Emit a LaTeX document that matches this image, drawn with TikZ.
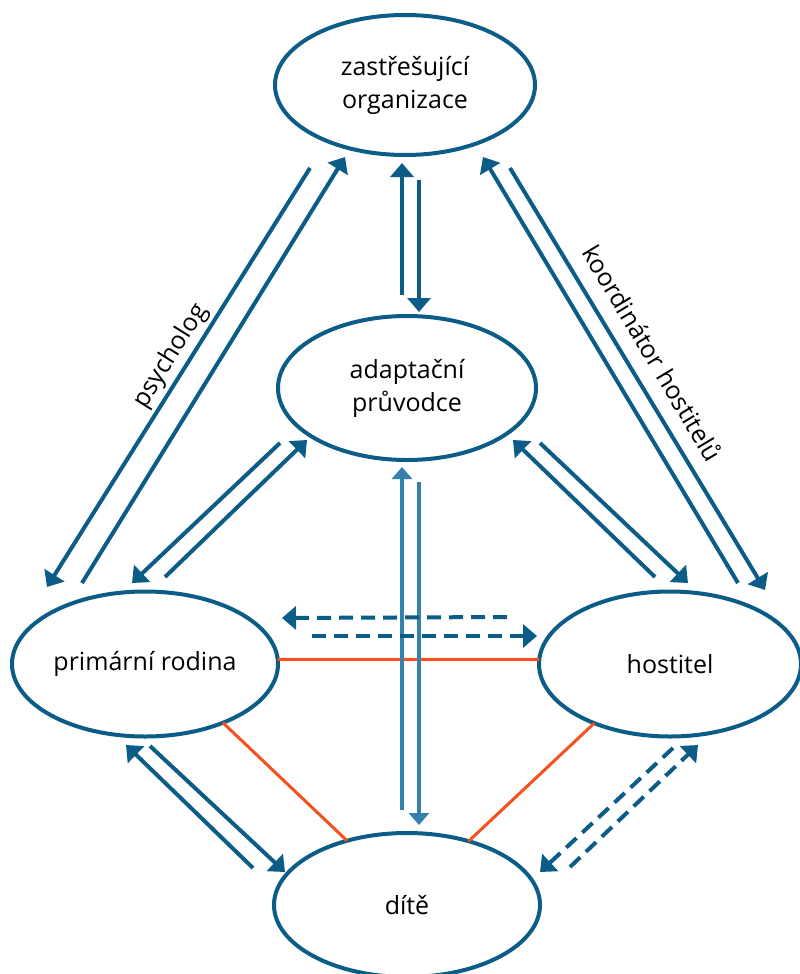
\documentclass[tikz,border=0pt]{standalone}
\usepackage{fontspec}
\setmainfont{Open Sans}
\usetikzlibrary{arrows.meta,shapes.geometric}
\definecolor{dblue}{HTML}{0B5C86}
\definecolor{lblue}{HTML}{3580AC}
\definecolor{oran}{HTML}{F4511E}
\begin{document}
\begin{tikzpicture}[x=1pt,y=-1pt,
  ell/.style={draw=dblue,line width=4pt,ellipse,inner sep=0pt,outer sep=0pt,align=center,font=\fontsize{25}{33}\selectfont},
  sarr/.style={draw=dblue,line width=4pt,-{Triangle[length=14pt,width=23pt]}},
  larr/.style={draw=lblue,line width=3.5pt,-{Triangle[length=12pt,width=20pt]}},
  darr/.style={draw=dblue,line width=4pt,dash pattern=on 14pt off 8pt,-{Triangle[length=14pt,width=23pt]}},
  oline/.style={draw=oran,line width=3pt},
  lab/.style={font=\fontsize{25}{30}\selectfont,inner sep=1pt}]
\useasboundingbox (0,0) rectangle (800,974);
% nodes
\node[ell,minimum width=260pt,minimum height=140pt] (top) at (405,85) {zastřešující\\organizace};
\node[ell,minimum width=258pt,minimum height=144pt] (adapt) at (407,388) {adaptační\\průvodce};
\node[ell,minimum width=266pt,minimum height=145pt] (prim) at (145,664) {primární rodina};
\node[ell,minimum width=262pt,minimum height=145pt] (host) at (670,664) {hostitel};
\node[ell,minimum width=266pt,minimum height=144pt] (dite) at (407,905) {dítě};
% orange lines
\draw[oline] (prim.2) -- (host.178);
\draw[oline] (prim.-37) -- (dite.133);
\draw[oline] (host.-142) -- (dite.46);
% coordinates
\coordinate (ps1a) at (82,583);  \coordinate (ps1b) at (345,157);
\coordinate (ps2a) at (310,168); \coordinate (ps2b) at (47,587);
\coordinate (ko1a) at (738,583); \coordinate (ko1b) at (483,157);
\coordinate (ko2a) at (510,168); \coordinate (ko2b) at (765,590);
\coordinate (ap1a) at (165,577); \coordinate (ap1b) at (307,440);
\coordinate (ap2a) at (280,443); \coordinate (ap2b) at (132,583);
\coordinate (ah1a) at (655,577); \coordinate (ah1b) at (513,440);
\coordinate (ah2a) at (540,443); \coordinate (ah2b) at (688,583);
\coordinate (ta1a) at (402,295); \coordinate (ta1b) at (402,163);
\coordinate (ta2a) at (419,180); \coordinate (ta2b) at (419,312);
\coordinate (ad1a) at (402,810); \coordinate (ad1b) at (402,467);
\coordinate (ad2a) at (419,482); \coordinate (ad2b) at (419,825);
\coordinate (ph1a) at (507,617); \coordinate (ph1b) at (282,618);
\coordinate (ph2a) at (312,636); \coordinate (ph2b) at (537,636);
\coordinate (pd1a) at (253,868); \coordinate (pd1b) at (126,745);
\coordinate (pd2a) at (150,746); \coordinate (pd2b) at (285,872);
\coordinate (dh1a) at (673,748); \coordinate (dh1b) at (540,872);
\coordinate (dh2a) at (570,867); \coordinate (dh2b) at (698,745);
% arrows
\draw[sarr] (ps1a) -- (ps1b);
\draw[sarr] (ps2a) -- (ps2b);
\draw[sarr] (ko1a) -- (ko1b);
\draw[sarr] (ko2a) -- (ko2b);
\draw[sarr] (ap1a) -- (ap1b);
\draw[sarr] (ap2a) -- (ap2b);
\draw[sarr] (ah1a) -- (ah1b);
\draw[sarr] (ah2a) -- (ah2b);
\draw[sarr] (ta1a) -- (ta1b);
\draw[sarr] (ta2a) -- (ta2b);
\draw[larr] (ad1a) -- (ad1b);
\draw[larr] (ad2a) -- (ad2b);
\draw[darr] (ph1a) -- (ph1b);
\draw[darr] (ph2a) -- (ph2b);
\draw[sarr] (pd1a) -- (pd1b);
\draw[sarr] (pd2a) -- (pd2b);
\draw[darr] (dh1a) -- (dh1b);
\draw[darr] (dh2a) -- (dh2b);
% labels
\node[lab,rotate=58] (lpsy) at (171,356) {psycholog};
\node[lab,rotate=-59] (lkoo) at (653,353) {koordinátor hostitelů};
\end{tikzpicture}
\end{document}
